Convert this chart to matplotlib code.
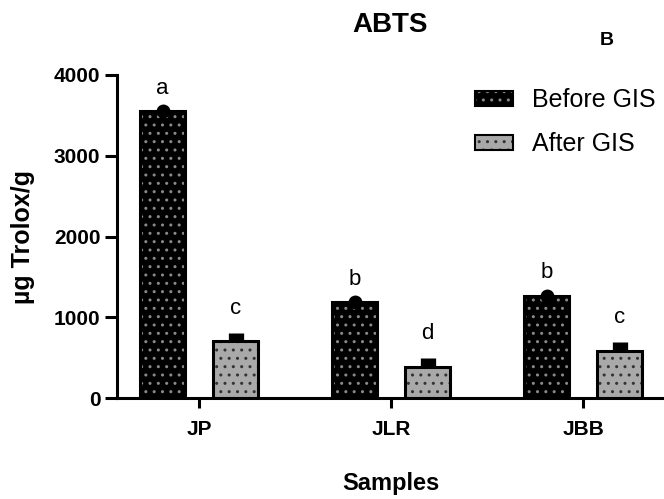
import matplotlib
matplotlib.use("Agg")
import matplotlib.pyplot as plt
import numpy as np
from matplotlib.patches import Patch

plt.rcParams['font.family'] = ['Liberation Sans', 'DejaVu Sans']

samples = ["JP", "JLR", "JBB"]
before = [3550, 1186, 1269]
after = [712, 378, 588]
before_sd = [30, 30, 30]
after_sd = [93, 118, 105]
before_letters = ["a", "b", "b"]
after_letters = ["c", "d", "c"]

fig = plt.figure(figsize=(6.64, 4.99), dpi=100)
ax = fig.add_axes([117 / 664, 1 - 398 / 499, 1 - 117 / 664, (398 - 75) / 499])

x = np.arange(len(samples))
w = 0.235
off = 0.19

# before GIS: black with grey dots
ax.bar(x - off, before, w, facecolor="black", edgecolor="#8a8a8a", hatch="..", linewidth=0, zorder=2)
ax.bar(x - off, before, w, facecolor="none", edgecolor="black", linewidth=2.2, zorder=3)
# after GIS: grey with black dots
ax.bar(x + off, after, w, facecolor="#a9a9a9", edgecolor="#333333", hatch="..", linewidth=0, zorder=2)
ax.bar(x + off, after, w, facecolor="none", edgecolor="black", linewidth=2.2, zorder=3)

# error bars
ax.errorbar(x - off, before, yerr=[np.zeros(3), before_sd], fmt="o", ms=9, color="black",
            elinewidth=2, capsize=0, zorder=4)
ax.errorbar(x + off, after, yerr=[np.zeros(3), after_sd], fmt="none", ecolor="black",
            elinewidth=11, capsize=0, zorder=4)

for i in range(len(samples)):
    ax.annotate(before_letters[i], (x[i] - off, before[i] + before_sd[i]), xytext=(0, 7),
                textcoords="offset points", ha="center", va="bottom", fontsize=16)
    ax.annotate(after_letters[i], (x[i] + off, after[i] + after_sd[i]), xytext=(0, 10),
                textcoords="offset points", ha="center", va="bottom", fontsize=16)

ax.set_ylim(0, 4000)
ax.set_xlim(-0.427, 2.42)
ax.set_yticks([0, 1000, 2000, 3000, 4000])
ax.set_xticks(x)
ax.set_xticklabels(samples)

for s in ["top", "right"]:
    ax.spines[s].set_visible(False)
for s in ["left", "bottom"]:
    ax.spines[s].set_linewidth(2.2)

ax.tick_params(axis="y", length=9, width=2.2, pad=3, labelsize=15)
ax.tick_params(axis="x", length=7.5, width=2.2, pad=8, labelsize=15)
for lab in ax.get_xticklabels() + ax.get_yticklabels():
    lab.set_fontweight("bold")

ax.set_ylabel("µg Trolox/g", fontsize=18, fontweight="bold")
ax.yaxis.set_label_coords(-0.15, 0.5)
ax.set_xlabel("Samples", fontsize=17, fontweight="bold", labelpad=24)

fig.text(390 / 664, 1 - 32 / 499, "ABTS", fontsize=20, fontweight="bold", ha="center", va="baseline")
fig.text(607 / 664, 1 - 45 / 499, "B", fontsize=14, fontweight="bold", ha="center", va="baseline")

h_before = (Patch(facecolor="black", edgecolor="#8a8a8a", hatch="..", linewidth=0),
            Patch(facecolor="none", edgecolor="black", linewidth=1.5))
h_after = (Patch(facecolor="#a9a9a9", edgecolor="#333333", hatch="..", linewidth=0),
           Patch(facecolor="none", edgecolor="black", linewidth=1.5))
fig.legend([h_before, h_after], ["Before GIS", "After GIS"], loc="upper left",
           bbox_to_anchor=(475 / 664, 1 - 88 / 499), frameon=False, fontsize=18,
           handlelength=1.5, handleheight=0.55, handletextpad=0.8, labelspacing=0.8,
           borderpad=0, borderaxespad=0)

fig.savefig("out.png", dpi=100)
